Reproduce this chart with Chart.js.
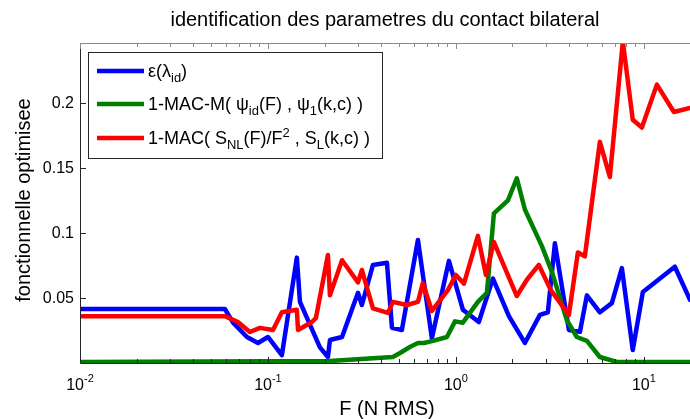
<!DOCTYPE html>
<html lang="fr">
<head>
<meta charset="UTF-8">
<title>identification des parametres du contact bilateral</title>
<script src="https://cdn.jsdelivr.net/npm/chart.js"></script>
<style>
    body { margin: 0; background: #fff; }
    .chart-box { width: 690px; height: 419px; position: relative; }
</style>
</head>
<body>
<div class="chart-box">
    <canvas id="idChart"></canvas>
</div>

<script>
    // values
    const fBlue = [0.01, 0.059, 0.0652, 0.0773, 0.0885, 0.100, 0.1186, 0.1425, 0.148, 0.189, 0.2085, 0.2137, 0.2478,
        0.3013, 0.316, 0.362, 0.4297, 0.457, 0.516, 0.628, 0.745, 0.918, 1.089, 1.324, 1.573, 1.914, 2.328, 2.799,
        3.085, 3.363, 3.992, 4.571, 4.977, 5.834, 6.757, 7.64, 8.73, 9.88, 14.62, 17.6];
    const eBlue = [0.0415, 0.0415, 0.031, 0.020, 0.0154, 0.020, 0.006, 0.081, 0.047, 0.012, 0.0046, 0.0177, 0.020,
        0.054, 0.0446, 0.0754, 0.077, 0.027, 0.0254, 0.0946, 0.019, 0.0785, 0.041, 0.0315, 0.065, 0.036, 0.0154, 0.037,
        0.039, 0.092, 0.0254, 0.024, 0.052, 0.039, 0.046, 0.073, 0.010, 0.0546, 0.074, 0.0485];

    const fGreen = [0.01, 0.2137, 0.380, 0.462, 0.504, 0.569, 0.628, 0.676, 0.755, 0.896, 0.989, 1.089, 1.309, 1.462,
        1.593, 1.892, 2.109, 2.328, 2.864, 3.243, 3.89, 4.40, 4.977, 5.834, 7.18, 17.6];
    const macGreen = [0.0008, 0.0015, 0.0038, 0.0046, 0.0077, 0.0123, 0.0154, 0.0154, 0.017, 0.020, 0.032, 0.031,
        0.047, 0.054, 0.115, 0.125, 0.142, 0.118, 0.090, 0.070, 0.033, 0.020, 0.017, 0.0046, 0.0008, 0.0008];

    const fRed = [0.01, 0.059, 0.0692, 0.0801, 0.0906, 0.1064, 0.1186, 0.1425, 0.1445, 0.1714, 0.18, 0.2085, 0.2137,
        0.2478, 0.3013, 0.316, 0.362, 0.4345, 0.462, 0.548, 0.628, 0.667, 0.745, 0.906, 1.0, 1.104, 1.309, 1.445,
        1.593, 2.109, 2.386, 2.762, 3.199, 3.992, 4.457, 4.853, 5.834, 6.59, 7.73, 8.73, 9.76, 11.73, 14.45, 17.6];
    const macRed = [0.036, 0.036, 0.0315, 0.0238, 0.027, 0.0254, 0.039, 0.041, 0.0254, 0.0315, 0.0346, 0.083, 0.052,
        0.079, 0.062, 0.0715, 0.042, 0.0385, 0.047, 0.0446, 0.047, 0.0615, 0.040, 0.056, 0.0677, 0.061, 0.0977, 0.0677,
        0.093, 0.0515, 0.064, 0.0754, 0.056, 0.037, 0.085, 0.082, 0.170, 0.143, 0.247, 0.187, 0.181, 0.214, 0.193, 0.196];

    const xMin = 0.01, xMax = 17.6;
    const yMin = 0, yMax = 0.246;
    const xDecades = [-2, -1, 0, 1];
    const yTicks = [0.05, 0.1, 0.15, 0.2];
    const yTickLabels = ['0.05', '0.1', '0.15', '0.2'];

    const titleText = 'identification des parametres du contact bilateral';
    const xLabel = 'F (N RMS)';
    const yLabel = 'fonctionnelle optimisee';

    // legend text pieces: [text, 'sub' | 'sup' | '']
    const legendBlue = [['ε(λ', ''], ['id', 'sub'], [')', '']];
    const legendGreen = [['1-MAC-M( ψ', ''], ['id', 'sub'], ['(F) , ψ', ''], ['1', 'sub'], ['(k,c) )', '']];
    const legendRed = [['1-MAC( S', ''], ['NL', 'sub'], ['(F)/F', ''], ['2', 'sup'], [' , S', ''], ['L', 'sub'], ['(k,c) )', '']];

    const FONT = '"Liberation Sans", Arial, Helvetica, sans-serif';

    function pts(xs, ys) {
        return xs.map((v, i) => ({ x: v, y: ys[i] }));
    }

    function richText(ctx, parts, x, y, size) {
        parts.forEach(p => {
            let s = size, dy = 0;
            if (p[1] === 'sub') { s = size * 0.72; dy = 5; }
            if (p[1] === 'sup') { s = size * 0.72; dy = -7; }
            ctx.font = s + 'px ' + FONT;
            ctx.fillText(p[0], x, y + dy);
            x += ctx.measureText(p[0]).width;
        });
        return x;
    }

    const matlabAxes = {
        id: 'matlabAxes',
        afterDraw(chart) {
            const ctx = chart.ctx;
            const a = chart.chartArea;
            const xs = chart.scales.x, ys = chart.scales.y;
            ctx.save();

            // frame
            ctx.lineWidth = 1;
            ctx.strokeStyle = '#8c8c8c';
            ctx.beginPath();
            ctx.moveTo(a.left, a.top + 0.5);
            ctx.lineTo(a.right, a.top + 0.5);
            ctx.stroke();
            ctx.strokeStyle = '#262626';
            ctx.beginPath();
            ctx.moveTo(a.left + 0.5, a.top);
            ctx.lineTo(a.left + 0.5, a.bottom + 0.5);
            ctx.lineTo(a.right, a.bottom + 0.5);
            ctx.stroke();

            // x ticks, major + minor, on bottom and top
            ctx.fillStyle = '#000';
            xDecades.forEach(d => {
                for (let m = 1; m <= 9; m++) {
                    const v = m * Math.pow(10, d);
                    if (v < xMin || v > xMax) continue;
                    const px = Math.round(xs.getPixelForValue(v)) + 0.5;
                    const len = m === 1 ? 6 : 4;
                    ctx.strokeStyle = '#262626';
                    ctx.beginPath();
                    ctx.moveTo(px, a.bottom);
                    ctx.lineTo(px, a.bottom - len);
                    ctx.stroke();
                    ctx.strokeStyle = '#8c8c8c';
                    ctx.beginPath();
                    ctx.moveTo(px, a.top);
                    ctx.lineTo(px, a.top + len);
                    ctx.stroke();
                }
                // label 10^d
                const cx = xs.getPixelForValue(Math.pow(10, d));
                ctx.font = '16px ' + FONT;
                const w1 = ctx.measureText('10').width;
                ctx.font = '11px ' + FONT;
                const sup = String(d);
                const w2 = ctx.measureText(sup).width;
                let x0 = cx - (w1 + w2) / 2;
                ctx.textAlign = 'left';
                ctx.textBaseline = 'alphabetic';
                ctx.font = '16px ' + FONT;
                ctx.fillText('10', x0, a.bottom + 27);
                ctx.font = '11px ' + FONT;
                ctx.fillText(sup, x0 + w1, a.bottom + 19);
            });

            // y ticks
            ctx.strokeStyle = '#262626';
            ctx.font = '16px ' + FONT;
            ctx.textAlign = 'right';
            ctx.textBaseline = 'middle';
            yTicks.forEach((v, i) => {
                const py = Math.round(ys.getPixelForValue(v)) + 0.5;
                ctx.beginPath();
                ctx.moveTo(a.left, py);
                ctx.lineTo(a.left + 6, py);
                ctx.stroke();
                ctx.fillText(yTickLabels[i], a.left - 6, py);
            });

            // title and axis labels
            const mid = (a.left + a.right) / 2;
            ctx.textAlign = 'center';
            ctx.textBaseline = 'alphabetic';
            ctx.font = '20px ' + FONT;
            ctx.fillText(titleText, mid, 26);
            ctx.fillText(xLabel, mid + 2, 415);
            ctx.save();
            ctx.translate(30, 200);
            ctx.rotate(-Math.PI / 2);
            ctx.fillText(yLabel, 0, 0);
            ctx.restore();

            // legend
            const lx = 88, ly = 52, lw = 294, lh = 106;
            ctx.fillStyle = '#fff';
            ctx.fillRect(lx, ly, lw, lh);
            ctx.strokeStyle = '#262626';
            ctx.lineWidth = 1;
            ctx.strokeRect(lx + 0.5, ly + 0.5, lw, lh);
            const entries = [[legendBlue, '#0000ff'], [legendGreen, '#008000'], [legendRed, '#ff0000']];
            const rows = [71, 104, 138];
            entries.forEach((e, i) => {
                ctx.strokeStyle = e[1];
                ctx.lineWidth = 4.5;
                ctx.beginPath();
                ctx.moveTo(97, rows[i]);
                ctx.lineTo(144, rows[i]);
                ctx.stroke();
                ctx.fillStyle = '#000';
                ctx.textAlign = 'left';
                ctx.textBaseline = 'alphabetic';
                richText(ctx, e[0], 148, rows[i] + 6, 18);
            });

            ctx.restore();
        }
    };

    const lineStyle = { borderWidth: 4.5, pointRadius: 0, tension: 0, fill: false, borderJoinStyle: 'round', borderCapStyle: 'round' };

    new Chart(document.getElementById('idChart'), {
        type: 'line',
        data: {
            datasets: [
                Object.assign({ label: '1-MAC( SNL(F)/F2 , SL(k,c) )', data: pts(fRed, macRed), borderColor: '#ff0000' }, lineStyle),
                Object.assign({ label: '1-MAC-M( ψid(F) , ψ1(k,c) )', data: pts(fGreen, macGreen), borderColor: '#008000' }, lineStyle),
                Object.assign({ label: 'ε(λid)', data: pts(fBlue, eBlue), borderColor: '#0000ff' }, lineStyle)
            ]
        },
        options: {
            responsive: true,
            maintainAspectRatio: false,
            animation: false,
            layout: { padding: { left: 80, top: 43, right: 0, bottom: 56 } },
            scales: {
                x: { type: 'logarithmic', min: xMin, max: xMax, display: false },
                y: { type: 'linear', min: yMin, max: yMax, display: false }
            },
            plugins: {
                legend: { display: false },
                title: { display: false },
                tooltip: { enabled: false }
            }
        },
        plugins: [matlabAxes]
    });
</script>
</body>
</html>
